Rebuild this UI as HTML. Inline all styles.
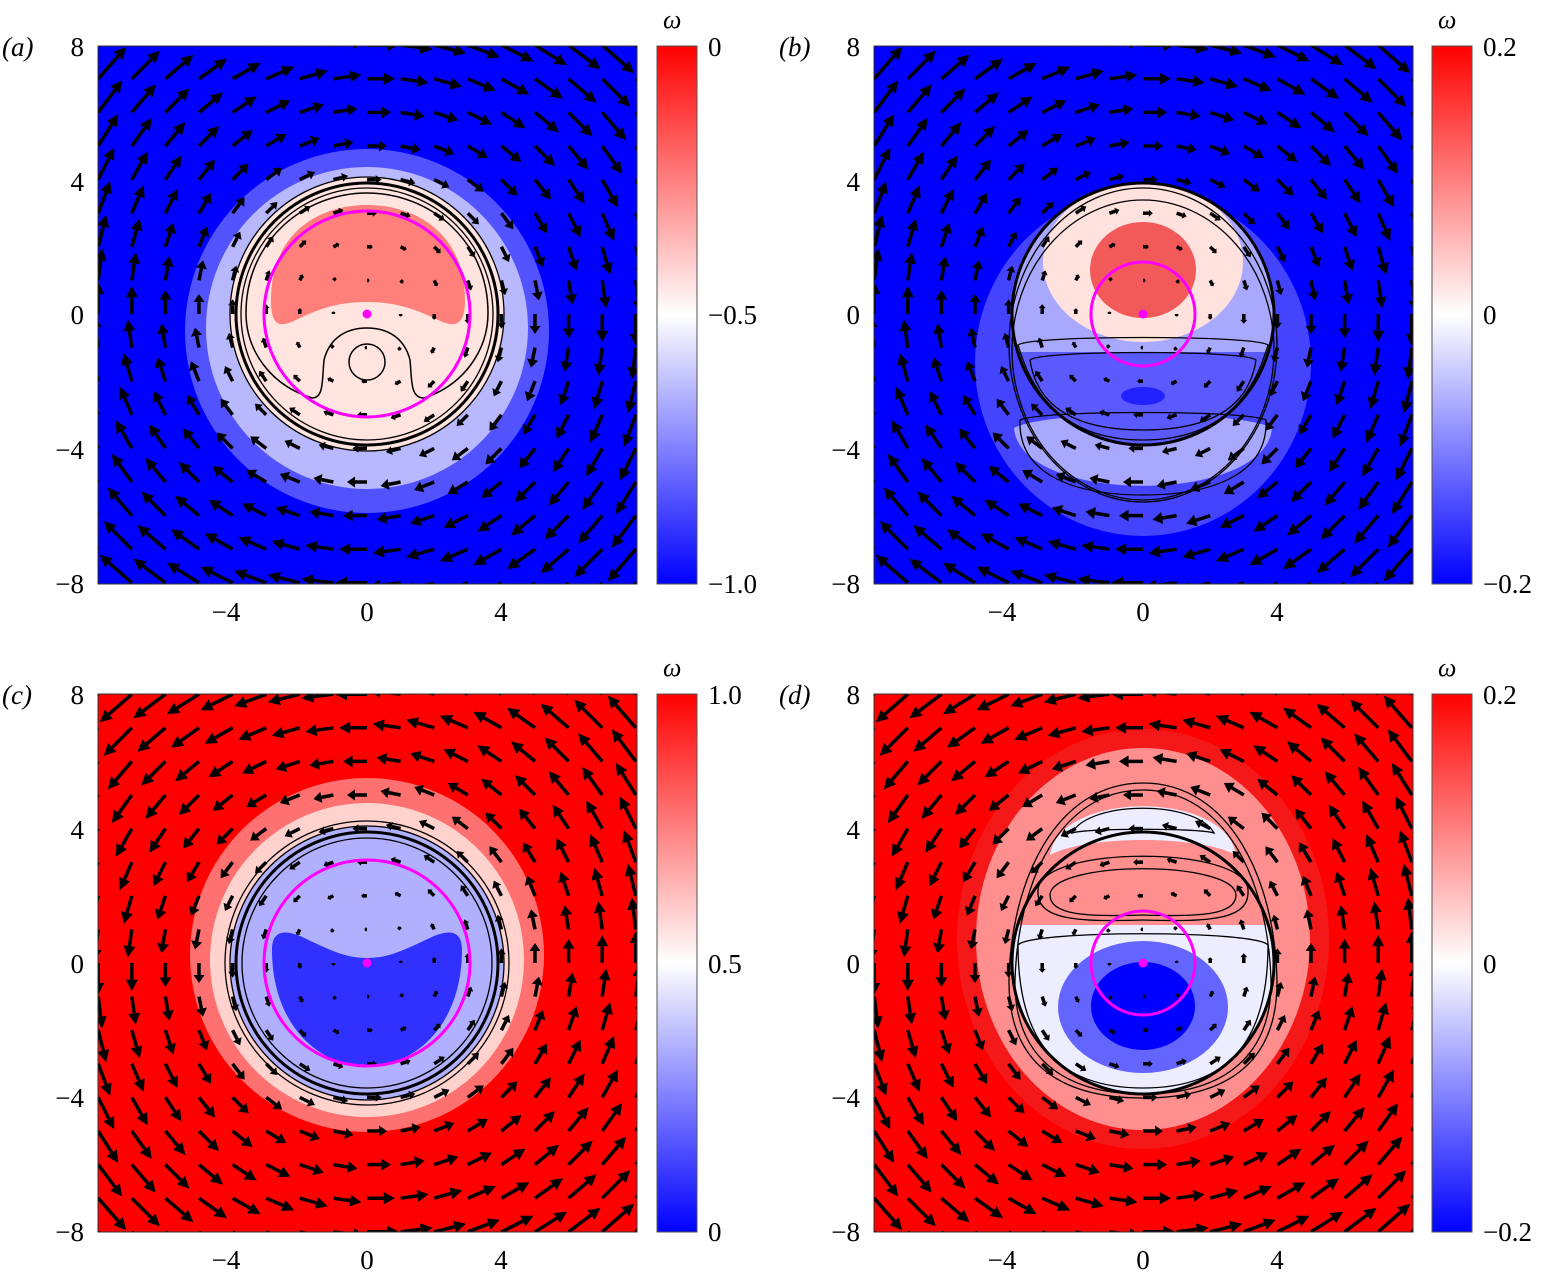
<!DOCTYPE html>
<html><head><meta charset="utf-8"><style>
body{margin:0;background:#fff;}
svg{display:block;}
text{font-family:"Liberation Serif","DejaVu Serif",serif;}
</style></head><body>
<svg id="s" width="1545" height="1280" viewBox="0 0 1545 1280" xmlns="http://www.w3.org/2000/svg">
<defs>
<linearGradient id="cb" x1="0" y1="0" x2="0" y2="1">
<stop offset="0" stop-color="#ff0000"/><stop offset="0.5" stop-color="#ffffff"/><stop offset="1" stop-color="#0000ff"/>
</linearGradient>
<clipPath id="ca"><rect x="98" y="46" width="539" height="538"/></clipPath>
<clipPath id="cbp"><rect x="874" y="46" width="539" height="538"/></clipPath>
<clipPath id="cc"><rect x="98" y="694" width="539" height="538"/></clipPath>
<clipPath id="cd"><rect x="874" y="694" width="539" height="538"/></clipPath>
<clipPath id="inb"><circle cx="1143" cy="314" r="131"/></clipPath>
<clipPath id="ind"><circle cx="1143" cy="963" r="131"/></clipPath>
</defs>

<!-- Panel a -->
<g clip-path="url(#ca)">
<rect x="98" y="46" width="539" height="538" fill="#0000ff"/>
<circle cx="367" cy="331" r="182" fill="#5252ff"/>
<circle cx="367" cy="328" r="161" fill="#b8b8ff"/>
<circle cx="367" cy="314" r="137" fill="#ffe4e0"/>
<path d="M271,300 C271,232 320,205 367,205 C414,205 465,232 465,300 C465,326 455,328 438,320 C410,306 390,302 367,302 C344,302 324,306 296,320 C279,328 271,326 271,300 Z" fill="#ff7f7b"/>
<g fill="none" stroke="#000">
<circle cx="367" cy="314" r="137" stroke-width="1.3"/>
<circle cx="367" cy="314" r="131" stroke-width="3"/>
<circle cx="367" cy="314" r="126" stroke-width="1.3"/>
<path d="M312,398 C270,385 246,350 246,313 C246,240 305,193 367,193 C429,193 488,240 488,313 C488,350 464,385 424,398 C410,398 412,380 410,360 C405,340 390,328 367,328 C344,328 329,340 324,360 C322,380 324,398 312,398 Z" stroke-width="1.5"/>
<circle cx="367" cy="362" r="18" stroke-width="1.5"/>
</g>
<g id="qa"></g>
<circle cx="367" cy="314" r="103" fill="none" stroke="#ff00ff" stroke-width="3"/>
<circle cx="367" cy="314" r="4.5" fill="#ff00ff"/>
</g>

<!-- Panel b -->
<g clip-path="url(#cbp)">
<rect x="874" y="46" width="539" height="538" fill="#0000ff"/>
<ellipse cx="1143" cy="363" rx="168" ry="173" fill="#4444ff"/>
<path d="M1014,428 C1020,505 1266,505 1272,428 C1240,410 1046,410 1014,428 Z" fill="#a8a8ff"/>
<g clip-path="url(#inb)">
<rect x="1000" y="180" width="290" height="280" fill="#5a5aff"/>
<rect x="1000" y="180" width="290" height="172" fill="#a8a8ff"/>
<ellipse cx="1143" cy="262" rx="100" ry="80" fill="#ffe2de"/>
<ellipse cx="1143" cy="270" rx="53" ry="48" fill="#f25a5a"/>
<ellipse cx="1143" cy="396" rx="22" ry="9" fill="#2222ff"/>
</g>
<g fill="none" stroke="#000" stroke-width="1.3">
<ellipse cx="1143" cy="345" rx="134" ry="157"/>
<ellipse cx="1143" cy="350" rx="131" ry="150"/>
<path d="M1018,345 C1030,335 1256,335 1268,345 C1260,370 1240,440 1143,440 C1046,440 1026,370 1018,345 Z"/>
<path d="M1030,360 C1040,350 1246,350 1256,360 C1250,400 1220,430 1143,430 C1066,430 1036,400 1030,360 Z"/>
<path d="M1020,420 C1040,410 1246,410 1266,420 C1268,470 1220,495 1143,495 C1066,495 1018,470 1020,420 Z"/>
<circle cx="1143" cy="314" r="131" stroke-width="3"/>
</g>
<g id="qb"></g>
<circle cx="1143" cy="314" r="52" fill="none" stroke="#ff00ff" stroke-width="3"/>
<circle cx="1143" cy="314" r="4.5" fill="#ff00ff"/>
</g>

<!-- Panel c -->
<g clip-path="url(#cc)">
<rect x="98" y="694" width="539" height="538" fill="#ff0000"/>
<circle cx="367" cy="955" r="177" fill="#ff7070"/>
<circle cx="367" cy="960" r="157" fill="#ffd2ce"/>
<circle cx="367" cy="963" r="137" fill="#b0b0ff"/>
<path d="M272,950 C272,930 285,930 300,936 C330,950 345,958 367,958 C389,958 404,950 434,936 C449,930 462,930 462,950 C462,1020 420,1066 367,1066 C314,1066 272,1020 272,950 Z" fill="#3030ff"/>
<g fill="none" stroke="#000">
<circle cx="367" cy="963" r="142" stroke-width="1.3"/>
<circle cx="367" cy="963" r="137" stroke-width="1.3"/>
<circle cx="367" cy="963" r="131" stroke-width="3"/>
<circle cx="367" cy="963" r="125" stroke-width="1.3"/>
</g>
<g id="qc"></g>
<circle cx="367" cy="963" r="103" fill="none" stroke="#ff00ff" stroke-width="3"/>
<circle cx="367" cy="963" r="4.5" fill="#ff00ff"/>
</g>

<!-- Panel d -->
<g clip-path="url(#cd)">
<rect x="874" y="694" width="539" height="538" fill="#ff0000"/>
<ellipse cx="1143" cy="939" rx="186" ry="210" fill="#f51818"/>
<ellipse cx="1143" cy="939" rx="167" ry="191" fill="#ff8e8e"/>
<path d="M1050,855 C1060,790 1226,790 1236,855 C1200,835 1086,835 1050,855 Z" fill="#eceeff"/>
<g clip-path="url(#ind)">
<rect x="1000" y="925" width="290" height="180" fill="#eceeff"/>
<ellipse cx="1143" cy="1007" rx="85" ry="66" fill="#6464ff"/>
<ellipse cx="1143" cy="1006" rx="52" ry="44" fill="#0000ff"/>
</g>
<g fill="none" stroke="#000" stroke-width="1.3">
<path d="M1143,783 C1230,783 1275,880 1277,980 C1278,1060 1230,1098 1143,1098 C1056,1098 1008,1060 1009,980 C1011,880 1056,783 1143,783 Z"/>
<path d="M1143,790 C1225,790 1268,880 1271,980 C1272,1055 1225,1094 1143,1094 C1061,1094 1014,1055 1015,980 C1018,880 1061,790 1143,790 Z"/>
<path d="M1072,833 C1090,800 1196,800 1214,833 C1200,828 1086,828 1072,833 Z"/>
<path d="M1038,890 C1040,845 1246,845 1248,890 C1250,920 1210,922 1143,920 C1076,922 1036,920 1038,890 Z"/>
<path d="M1050,895 C1052,860 1234,860 1236,895 C1236,915 1200,917 1143,915 C1086,917 1050,915 1050,895 Z"/>
<path d="M1018,945 C1030,930 1256,930 1268,945 C1268,1040 1230,1088 1143,1088 C1056,1088 1018,1040 1018,945 Z"/>
<circle cx="1143" cy="963" r="131" stroke-width="3"/>
</g>
<g id="qd"></g>
<circle cx="1143" cy="963" r="52" fill="none" stroke="#ff00ff" stroke-width="3"/>
<circle cx="1143" cy="963" r="4.5" fill="#ff00ff"/>
</g>

<!-- frames -->
<g fill="none" stroke="#333" stroke-width="1">
<rect x="98" y="46" width="539" height="538"/>
<rect x="874" y="46" width="539" height="538"/>
<rect x="98" y="694" width="539" height="538"/>
<rect x="874" y="694" width="539" height="538"/>
</g>

<!-- colorbars -->
<g stroke="#555" stroke-width="1">
<rect x="657" y="46" width="40" height="538" fill="url(#cb)"/>
<rect x="1432" y="46" width="40" height="538" fill="url(#cb)"/>
<rect x="657" y="694" width="40" height="538" fill="url(#cb)"/>
<rect x="1432" y="694" width="40" height="538" fill="url(#cb)"/>
</g>

<g font-size="27" fill="#000" font-family="Liberation Serif, serif">
<g font-style="italic">
<text x="2" y="56">(a)</text>
<text x="779" y="56">(b)</text>
<text x="2" y="704">(c)</text>
<text x="779" y="704">(d)</text>
<text x="663" y="28" font-size="26">ω</text>
<text x="1438" y="28" font-size="26">ω</text>
<text x="663" y="676" font-size="26">ω</text>
<text x="1438" y="676" font-size="26">ω</text>
</g>
<text x="708" y="56">0</text><text x="708" y="324">−0.5</text><text x="708" y="593">−1.0</text>
<text x="1483" y="56">0.2</text><text x="1483" y="324">0</text><text x="1483" y="593">−0.2</text>
<text x="708" y="704">1.0</text><text x="708" y="973">0.5</text><text x="708" y="1241">0</text>
<text x="1483" y="704">0.2</text><text x="1483" y="973">0</text><text x="1483" y="1241">−0.2</text>
<g text-anchor="end">
<text x="84" y="56">8</text><text x="84" y="191">4</text><text x="84" y="324">0</text><text x="84" y="459">−4</text><text x="84" y="593">−8</text>
<text x="860" y="56">8</text><text x="860" y="191">4</text><text x="860" y="324">0</text><text x="860" y="459">−4</text><text x="860" y="593">−8</text>
<text x="84" y="704">8</text><text x="84" y="839">4</text><text x="84" y="973">0</text><text x="84" y="1107">−4</text><text x="84" y="1241">−8</text>
<text x="860" y="704">8</text><text x="860" y="839">4</text><text x="860" y="973">0</text><text x="860" y="1107">−4</text><text x="860" y="1241">−8</text>
</g>
<g text-anchor="middle">
<text x="226" y="621">−4</text><text x="367" y="621">0</text><text x="501" y="621">4</text>
<text x="1002" y="621">−4</text><text x="1143" y="621">0</text><text x="1277" y="621">4</text>
<text x="226" y="1269">−4</text><text x="367" y="1269">0</text><text x="501" y="1269">4</text>
<text x="1002" y="1269">−4</text><text x="1143" y="1269">0</text><text x="1277" y="1269">4</text>
</g>
</g>
</svg>
<script>
(function(){
var S=33.6;
function quiver(id,cx,cy,dir){
  var g=document.getElementById(id),h="";
  for(var i=-8;i<=8;i++)for(var j=-8;j<=8;j++){
    var x=i,y=j,r=Math.sqrt(x*x+y*y);
    if(r<0.01){continue;}
    var gg=r>=5?1:0.55+0.09*r;
    var L=4.0*r*gg;
    var ux=dir*y/r, uy=-dir*x/r;
    var sx=ux, sy=-uy;
    var px=cx+x*S, py=cy-y*S;
    var hl=Math.min(12,L*0.4), hw=Math.min(6,L*0.2+1.5);
    var x0=px,y0=py,x1=px+sx*L,y1=py+sy*L;
    var bx=x1-sx*hl,by=y1-sy*hl;
    h+='<line x1="'+x0.toFixed(1)+'" y1="'+y0.toFixed(1)+'" x2="'+bx.toFixed(1)+'" y2="'+by.toFixed(1)+'" stroke="#000" stroke-width="3.5"/>';
    h+='<polygon points="'+x1.toFixed(1)+','+y1.toFixed(1)+' '+(bx-sy*hw).toFixed(1)+','+(by+sx*hw).toFixed(1)+' '+(bx+sy*hw).toFixed(1)+','+(by-sx*hw).toFixed(1)+'" fill="#000"/>';
  }
  g.innerHTML=h;
}
quiver("qa",367,314,1);
quiver("qb",1143,314,1);
quiver("qc",367,963,-1);
quiver("qd",1143,963,-1);
})();
</script>
</body></html>
